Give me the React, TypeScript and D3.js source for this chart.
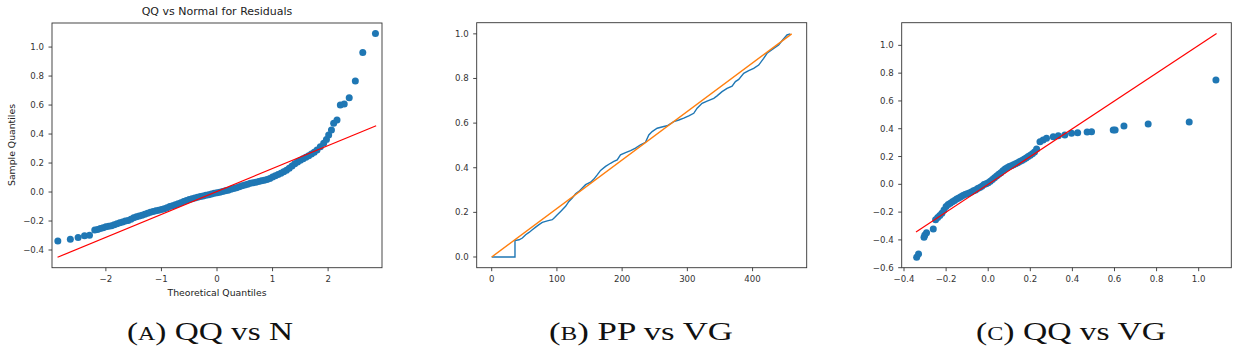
import React from 'react';
import * as d3 from 'd3';

// ---- panel A: QQ vs normal (theoretical, sample)
const qqNormX = [
  -2.865, -2.64, -2.50, -2.385, -2.295,
  -2.20, -2.15, -2.10, -2.05, -2.00, -1.95, -1.90, -1.85, -1.80, -1.75, -1.70, -1.65, -1.60, -1.55,
  -1.50, -1.45, -1.40, -1.35, -1.30, -1.25, -1.20, -1.15, -1.10, -1.05, -1.00, -0.95, -0.90, -0.85,
  -0.80, -0.75, -0.70, -0.65, -0.60, -0.55, -0.50, -0.45, -0.40, -0.35, -0.30, -0.25, -0.20, -0.15,
  -0.10, -0.05, 0.00, 0.05, 0.10, 0.15, 0.20, 0.25, 0.30, 0.35, 0.40, 0.45, 0.50, 0.55, 0.60, 0.65,
  0.70, 0.75, 0.80, 0.85, 0.90, 0.95, 1.00, 1.05, 1.10, 1.15, 1.20, 1.25, 1.30, 1.35, 1.40, 1.45,
  1.50, 1.55, 1.60, 1.65, 1.70, 1.75,
  1.80, 1.86, 1.92, 1.97, 2.01, 2.06, 2.10, 2.16, 2.22, 2.29, 2.38, 2.49, 2.624, 2.852,
];
const qqNormY = [
  -0.338, -0.326, -0.313, -0.301, -0.299,
  -0.262, -0.258, -0.252, -0.246, -0.240, -0.236, -0.232, -0.226, -0.218, -0.212, -0.206, -0.200, -0.196, -0.188,
  -0.178, -0.170, -0.166, -0.160, -0.153, -0.146, -0.140, -0.135, -0.130, -0.126, -0.121, -0.116, -0.108, -0.100,
  -0.094, -0.088, -0.080, -0.074, -0.066, -0.058, -0.052, -0.047, -0.042, -0.036, -0.031, -0.027, -0.022, -0.018,
  -0.013, -0.009, -0.005, -0.002, 0.003, 0.008, 0.013, 0.019, 0.025, 0.030, 0.036, 0.043, 0.048, 0.054, 0.060, 0.064,
  0.068, 0.072, 0.077, 0.082, 0.087, 0.094, 0.103, 0.112, 0.121, 0.130, 0.140, 0.150, 0.164, 0.180, 0.195, 0.208,
  0.220, 0.230, 0.240, 0.250, 0.262, 0.275,
  0.290, 0.312, 0.336, 0.363, 0.393, 0.428, 0.474, 0.497, 0.600, 0.607, 0.650, 0.766, 0.963, 1.094,
];
const qqNormLine = [[-2.87, -0.45], [2.865, 0.457]];

// ---- panel B: PP vs VG
const ppX = [0, 35.7, 35.7, 41.9, 47.0, 52.1, 57.2, 62.3, 67.4, 72.5, 77.6, 85.3, 92.9, 96.5, 100.6, 105.7,
  113.3, 118.4, 123.5, 128.6, 133.7, 138.9, 144, 151.6, 156.7, 161.8, 166.9, 174.6, 182.2, 187.3, 192.4,
  197.5, 205.2, 212.9, 220.5, 228.2, 235.8, 240.9, 246, 253.7, 263.9, 269, 279.2, 286.9, 294.5, 302.2,
  309.8, 315, 322.6, 330.3, 340.5, 345.6, 353.2, 360.9, 368.6, 373.7, 378.8, 386.4, 394.1, 401.7, 409.4,
  417, 422.2, 432.4, 440, 445.1, 452.8, 457.9];
const ppY = [0, 0, 0.074, 0.077, 0.085, 0.100, 0.110, 0.122, 0.134, 0.145, 0.155, 0.162, 0.167, 0.177, 0.189, 0.204,
  0.227, 0.249, 0.264, 0.283, 0.294, 0.309, 0.324, 0.335, 0.349, 0.368, 0.388, 0.406, 0.420, 0.428, 0.435,
  0.458, 0.468, 0.477, 0.488, 0.503, 0.514, 0.547, 0.562, 0.577, 0.585, 0.588, 0.607, 0.614, 0.622, 0.632,
  0.644, 0.667, 0.689, 0.699, 0.711, 0.722, 0.741, 0.756, 0.766, 0.786, 0.796, 0.823, 0.835, 0.845, 0.860,
  0.890, 0.913, 0.935, 0.950, 0.969, 0.995, 1.0];
const ppLine = [[0, 0], [460, 1]];

// ---- panel C: QQ vs VG
const qqVgX = [
  -0.340, -0.331, -0.305, -0.301, -0.293, -0.261,
  -0.25, -0.24, -0.23, -0.22, -0.21, -0.20, -0.19, -0.18, -0.17, -0.16, -0.15, -0.14, -0.13, -0.12, -0.11,
  -0.10, -0.09, -0.08, -0.07, -0.06, -0.05, -0.04, -0.03, -0.02, -0.01, 0.00, 0.01, 0.02, 0.03, 0.04, 0.05,
  0.06, 0.07, 0.08, 0.09, 0.10, 0.11, 0.12, 0.13, 0.14, 0.15, 0.16, 0.17, 0.18, 0.19, 0.20, 0.21, 0.22, 0.23,
  0.246, 0.261, 0.277, 0.309, 0.333, 0.364, 0.396, 0.425, 0.470, 0.491, 0.594, 0.603, 0.645, 0.760, 0.955, 1.082,
];
const qqVgY = [
  -0.525, -0.501, -0.381, -0.365, -0.348, -0.322,
  -0.255, -0.238, -0.225, -0.208, -0.185, -0.160, -0.146, -0.136, -0.126, -0.117, -0.106, -0.098, -0.090, -0.080, -0.073,
  -0.068, -0.062, -0.055, -0.047, -0.040, -0.030, -0.022, -0.013, -0.002, 0.004, 0.012, 0.022, 0.035, 0.048, 0.060, 0.072,
  0.084, 0.098, 0.110, 0.120, 0.128, 0.134, 0.140, 0.148, 0.156, 0.164, 0.172, 0.180, 0.190, 0.200, 0.210, 0.220, 0.232, 0.255,
  0.306, 0.319, 0.331, 0.342, 0.350, 0.355, 0.367, 0.371, 0.376, 0.378, 0.391, 0.391, 0.419, 0.434, 0.448, 0.750,
];
const qqVgLine = [[-0.343, -0.343], [1.085, 1.085]];

// ticks
const ticksAX = [-2, -1, 0, 1, 2];
const ticksAY = [-0.4, -0.2, 0.0, 0.2, 0.4, 0.6, 0.8, 1.0];
const ticksBX = [0, 100, 200, 300, 400];
const ticksBY = [0.0, 0.2, 0.4, 0.6, 0.8, 1.0];
const ticksCX = [-0.4, -0.2, 0.0, 0.2, 0.4, 0.6, 0.8, 1.0];
const ticksCY = [-0.6, -0.4, -0.2, 0.0, 0.2, 0.4, 0.6, 0.8, 1.0];

const captions = [
  { letter: 'A', rest: 'QQ vs N' },
  { letter: 'B', rest: 'PP vs VG' },
  { letter: 'C', rest: 'QQ vs VG' },
];

const BLUE = '#1f77b4';
const ORANGE = '#ff7f0e';
const FONT = 'DejaVu Sans, sans-serif';
const minus = (s: string) => s.replace('-', '\u2212');

function Axes({ box, xDom, yDom, xTicks, yTicks, xFmt, yFmt, children }: any) {
  const x = d3.scaleLinear().domain(xDom).range([box.l, box.r]);
  const y = d3.scaleLinear().domain(yDom).range([box.b, box.t]);
  return (
    <g>
      {children(x, y)}
      <rect x={box.l} y={box.t} width={box.r - box.l} height={box.b - box.t} fill="none" stroke="#333" strokeWidth={0.9} />
      {xTicks.map((t: number) => (
        <g key={'x' + t}>
          <line x1={x(t)} x2={x(t)} y1={box.b} y2={box.b + 3.5} stroke="#333" strokeWidth={0.9} />
          <text x={x(t)} y={box.b + 14.5} textAnchor="middle" fontSize={8.6} fill="#333" fontFamily={FONT}>
            {minus(d3.format(xFmt)(t))}
          </text>
        </g>
      ))}
      {yTicks.map((t: number) => (
        <g key={'y' + t}>
          <line x1={box.l - 3.5} x2={box.l} y1={y(t)} y2={y(t)} stroke="#333" strokeWidth={0.9} />
          <text x={box.l - 8} y={y(t)} dy="0.35em" textAnchor="end" fontSize={8.6} fill="#333" fontFamily={FONT}>
            {minus(d3.format(yFmt)(t))}
          </text>
        </g>
      ))}
    </g>
  );
}

export default function App() {
  const boxA = { l: 52, r: 382, t: 23, b: 267.7 };
  const boxB = { l: 476.7, r: 806.7, t: 22.7, b: 267.7 };
  const boxC = { l: 901.7, r: 1231.3, t: 22.7, b: 267.7 };
  const capX = [210, 641, 1071];
  const capW = [166, 184, 190];
  const path = (pts: number[][]) => d3.line()(pts as [number, number][]) || '';

  return (
    <svg width={1239} height={351} style={{ position: 'absolute', left: 0, top: 0, background: '#fff' }}>
      <rect width={1239} height={351} fill="#fff" />
      {/* Panel A */}
      <Axes box={boxA} xDom={[-2.97, 2.97]} yDom={[-0.522, 1.166]} xTicks={ticksAX} yTicks={ticksAY} xFmt="d" yFmt=".1f">
        {(x: any, y: any) => (
          <g>
            {qqNormX.map((v, i) => (
              <circle key={i} cx={x(v)} cy={y(qqNormY[i])} r={3.5} fill={BLUE} />
            ))}
            <path d={path(qqNormLine.map(p => [x(p[0]), y(p[1])]))} stroke="red" strokeWidth={1.2} fill="none" />
          </g>
        )}
      </Axes>
      <text x={217} y={15} textAnchor="middle" fontSize={11} fill="#222" fontFamily={FONT}>QQ vs Normal for Residuals</text>
      <text x={217} y={296} textAnchor="middle" fontSize={9.3} fill="#222" fontFamily={FONT}>Theoretical Quantiles</text>
      <text transform="translate(15,145) rotate(-90)" textAnchor="middle" fontSize={9.3} fill="#222" fontFamily={FONT}>Sample Quantiles</text>

      {/* Panel B */}
      <Axes box={boxB} xDom={[-23, 483]} yDom={[-0.048, 1.05]} xTicks={ticksBX} yTicks={ticksBY} xFmt="d" yFmt=".1f">
        {(x: any, y: any) => (
          <g>
            <path d={path(ppX.map((v, i) => [x(v), y(ppY[i])]))} stroke={BLUE} strokeWidth={1.4} fill="none" />
            <path d={path(ppLine.map(p => [x(p[0]), y(p[1])]))} stroke={ORANGE} strokeWidth={1.4} fill="none" />
          </g>
        )}
      </Axes>

      {/* Panel C */}
      <Axes box={boxC} xDom={[-0.411, 1.155]} yDom={[-0.6, 1.163]} xTicks={ticksCX} yTicks={ticksCY} xFmt=".1f" yFmt=".1f">
        {(x: any, y: any) => (
          <g>
            {qqVgX.map((v, i) => (
              <circle key={i} cx={x(v)} cy={y(qqVgY[i])} r={3.5} fill={BLUE} />
            ))}
            <path d={path(qqVgLine.map(p => [x(p[0]), y(p[1])]))} stroke="red" strokeWidth={1.2} fill="none" />
          </g>
        )}
      </Axes>

      {captions.map((c, i) => (
        <text key={c.letter} x={capX[i]} y={340} textAnchor="middle" fontSize={25} fill="#111"
          fontFamily="Liberation Serif, serif" textLength={capW[i]} lengthAdjust="spacingAndGlyphs">
          (<tspan fontSize={18}>{c.letter}</tspan>) {c.rest}
        </text>
      ))}
    </svg>
  );
}
